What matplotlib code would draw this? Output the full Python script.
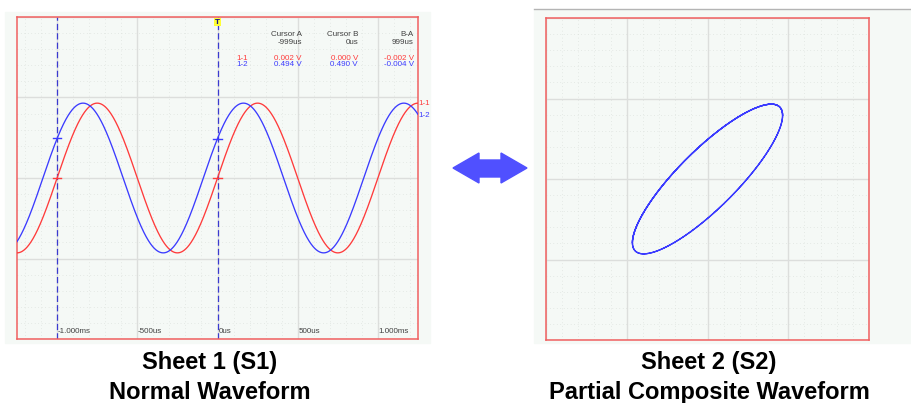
import numpy as np
import matplotlib
matplotlib.use("Agg")
import matplotlib.pyplot as plt
from matplotlib.patches import Rectangle, Polygon
from matplotlib.lines import Line2D
from matplotlib.ticker import MultipleLocator

# ---- signal data (two channels of a 1 kHz sine, channel 1-2 leading) ----
freq_khz = 1.0            # kHz
amp_11 = 0.93             # V, channel 1-1
amp_12 = 0.93             # V, channel 1-2
phase_12_deg = 31.8       # lead of 1-2 over 1-1

# ---- cursor readout ----
cursor_names = ["Cursor A", "Cursor B"]
cursor_times_us = [-999, 0]
cursor_v_11 = [0.002, 0.000]
cursor_v_12 = [0.494, 0.490]

# ---- axis ticks ----
tick_times_ms = [-1.0, -0.5, 0.0, 0.5, 1.0]
tick_labels = ["-1.000ms", "-500us", "0us", "500us", "1.000ms"]

titles_left = ["Sheet 1 (S1)", "Normal Waveform"]
titles_right = ["Sheet 2 (S2)", "Partial Composite Waveform"]

W, H = 911, 403
fig = plt.figure(figsize=(W / 100, H / 100), dpi=100)
fig.patch.set_facecolor("white")


def fx(x):
    return x / W


def fy(y):
    return 1 - y / H


def box(x0, y0, x1, y1):
    return [fx(x0), fy(y1), fx(x1) - fx(x0), fy(y0) - fy(y1)]


BG = "#f5f9f6"
FRAME = "#f06060"
RED = "#ff3b3b"
BLUE = "#3b3bff"
GRID = "#dcdedc"
MINOR = "#d6dbd6"
TXT = "#404040"
SMALL = dict(family="Liberation Sans", fontsize=5.8)

# panel backgrounds
fig.patches.append(Rectangle((fx(5), fy(343)), fx(430) - fx(5), fy(12) - fy(343),
                             transform=fig.transFigure, color=BG, zorder=-2))
fig.patches.append(Rectangle((fx(534), fy(343)), fx(911) - fx(534), fy(10) - fy(343),
                             transform=fig.transFigure, color=BG, zorder=-2))
fig.lines.append(Line2D([fx(534), fx(911)], [fy(9), fy(9)], transform=fig.transFigure,
                        color="#b4b4b4", lw=1.0, zorder=-1))


def style_grid(ax, xmaj, xmin, ymaj, ymin):
    ax.set_facecolor(BG)
    ax.xaxis.set_major_locator(MultipleLocator(xmaj))
    ax.xaxis.set_minor_locator(MultipleLocator(xmin))
    ax.yaxis.set_major_locator(MultipleLocator(ymaj))
    ax.yaxis.set_minor_locator(MultipleLocator(ymin))
    ax.grid(which="major", color=GRID, lw=1.0)
    ax.grid(which="minor", color=MINOR, lw=0.5, linestyle=(0, (1, 4)))
    ax.tick_params(which="both", length=0, labelbottom=False, labelleft=False)
    for s in ax.spines.values():
        s.set_color(FRAME)
        s.set_linewidth(1.1)
    ax.set_axisbelow(True)


# ---------------- left: time-domain waveform ----------------
ax1 = fig.add_axes(box(17, 17, 418, 339))
ax1.set_xlim(-1.25, 1.25)
ax1.set_ylim(-2, 2)
style_grid(ax1, 0.5, 0.1, 1.0, 0.2)

t = np.linspace(-1.25, 1.25, 1200)
w = 2 * np.pi * freq_khz
ph = np.deg2rad(phase_12_deg)
v11 = amp_11 * np.sin(w * t)
v12 = amp_12 * np.sin(w * t + ph)
ax1.plot(t, v11, color=RED, lw=0.95, zorder=3)
ax1.plot(t, v12, color=BLUE, lw=0.95, zorder=3)

# cursor lines and markers
for ct, a, b in zip(cursor_times_us, cursor_v_11, cursor_v_12):
    tm = ct / 1000
    ax1.axvline(tm, color="#3a3ad0", lw=0.9, linestyle=(0, (5, 2.5)), zorder=2)
    ax1.plot([tm - 0.025, tm + 0.025], [a, a], color=RED, lw=1.0, zorder=4)
    ax1.plot([tm - 0.025, tm + 0.025], [b, b], color=BLUE, lw=1.0, zorder=4)

# time tick labels inside the plot
for tm, lab in zip(tick_times_ms, tick_labels):
    ax1.text(tm + 0.005, -1.95, lab, color=TXT, ha="left", va="bottom", **SMALL)

# trigger marker
ax1.text(0.0, 1.98, "T", color="#1a1a8a", ha="center", va="top", fontweight="bold",
         family="DejaVu Sans", fontsize=5,
         bbox=dict(boxstyle="square,pad=0.15", fc="#ffff33", ec="none"))

# channel labels at right edge
ax1.text(1.255, v11[-1], "1-1", color=RED, ha="left", va="center", clip_on=False, **SMALL)
ax1.text(1.255, v12[-1] - 0.02, "1-2", color=BLUE, ha="left", va="center",
         clip_on=False, **SMALL)

# cursor readout table
cols_x = [302, 358, 414]
heads = cursor_names + ["B-A"]
dt = cursor_times_us[1] - cursor_times_us[0]
times = [f"{cursor_times_us[0]}us", f"{cursor_times_us[1]}us", f"{dt}us"]
r11 = cursor_v_11 + [cursor_v_11[1] - cursor_v_11[0]]
r12 = cursor_v_12 + [cursor_v_12[1] - cursor_v_12[0]]
for cx, hd, tt, a, b in zip(cols_x, heads, times, r11, r12):
    fig.text(fx(cx), fy(35), hd, color=TXT, ha="right", va="center", **SMALL)
    fig.text(fx(cx), fy(42.5), tt, color=TXT, ha="right", va="center", **SMALL)
    fig.text(fx(cx), fy(58), f"{a:.3f} V", color=RED, ha="right", va="center", **SMALL)
    fig.text(fx(cx), fy(65), f"{b:.3f} V", color=BLUE, ha="right", va="center", **SMALL)
fig.text(fx(248), fy(58), "1-1", color=RED, ha="right", va="center", **SMALL)
fig.text(fx(248), fy(65), "1-2", color=BLUE, ha="right", va="center", **SMALL)

# ---------------- right: X-Y composite ----------------
ax2 = fig.add_axes(box(546, 18, 869, 340))
ax2.set_xlim(-2, 2)
ax2.set_ylim(-2, 2)
style_grid(ax2, 1.0, 0.2, 1.0, 0.2)
ax2.plot(v11, v12, color=BLUE, lw=0.95, zorder=3)

# double-headed arrow between the sheets
arrow_px = [(453, 168), (479, 153), (479, 160), (501, 160), (501, 153), (527, 168),
            (501, 183), (501, 177), (479, 177), (479, 183)]
fig.patches.append(Polygon([(fx(x), fy(y)) for x, y in arrow_px], closed=True,
                           transform=fig.transFigure, color="#5050ff", zorder=2))

# captions
TITLE = dict(family="Liberation Sans", fontsize=17, fontweight="bold", color="black",
             ha="center", va="baseline")
fig.text(fx(210), fy(369), titles_left[0], **TITLE)
fig.text(fx(210), fy(399), titles_left[1], **TITLE)
fig.text(fx(709), fy(369), titles_right[0], **TITLE)
fig.text(fx(709), fy(399), titles_right[1], **TITLE)

fig.savefig("out.png", dpi=100)
